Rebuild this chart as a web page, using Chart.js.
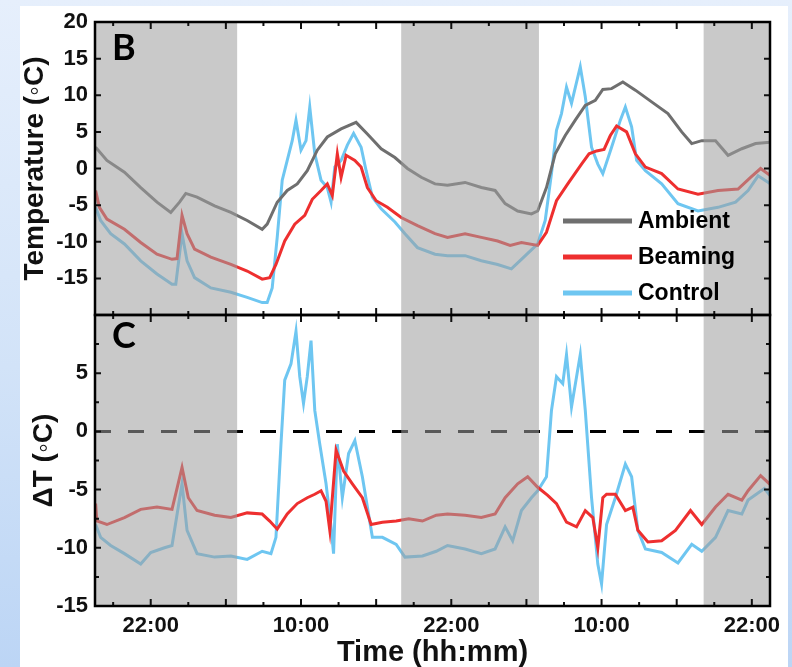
<!DOCTYPE html>
<html>
<head>
<meta charset="utf-8">
<script src="https://cdn.jsdelivr.net/npm/chart.js@4.4.1/dist/chart.umd.min.js"></script>
<style>
  html, body { margin: 0; padding: 0; }
  body { width: 792px; height: 667px; position: relative; overflow: hidden;
         background: linear-gradient(180deg, #e6effc 0%, #d2e3f8 55%, #bcd5f5 100%); }
  #sheet { position: absolute; left: 20px; top: 6px; width: 768px; height: 661px; background: #fff; }
  canvas { position: absolute; left: 0; top: 0; }
</style>
</head>
<body>
<div id="sheet"></div>
<canvas id="tempChart" width="792" height="667"></canvas>
<canvas id="deltaChart" width="792" height="667"></canvas>
<script>
// hours counted from midnight of the first day (22 = 22:00, 34 = 10:00 next day ...)
const xMin = 17.55, xMax = 71.45;
const xLabelHours = [22, 34, 46, 58, 70];
const xLabels = ['22:00', '10:00', '22:00', '10:00', '22:00'];
const xTickHours = [19, 22, 25, 28, 31, 34, 37, 40, 43, 46, 49, 52, 55, 58, 61, 64, 67, 70];
const nightStart = [17.55, 42.0, 66.15];
const nightEnd = [28.9, 53.0, 71.45];

const tempTicks = [-15, -10, -5, 0, 5, 10, 15];
const deltaTicks = [-12.5, -10, -7.5, -5, -2.5, 0, 2.5, 5, 7.5];

// panel B: temperatures
const ambientHours = [17.6, 18.5, 19.9, 21.2, 22.5, 23.6, 24.3, 24.8, 25.7, 27.1, 28.4, 29.7, 30.9, 31.3, 32.1, 32.9, 33.7, 34.5, 35.3, 36.1, 37.2, 38.4, 39.3, 40.4, 41.5, 42.5, 43.6, 44.7, 45.7, 47.1, 48.4, 49.5, 50.3, 51.3, 52.4, 52.9, 53.6, 54.3, 55.1, 55.9, 56.7, 57.5, 58.1, 58.8, 59.7, 60.7, 62.0, 63.3, 64.4, 65.2, 66.0, 67.1, 68.1, 69.2, 70.3, 71.5];
const ambientTemp = [2.9, 1.1, -0.5, -2.6, -4.6, -6.0, -4.6, -3.4, -3.9, -5.1, -6.0, -7.1, -8.3, -7.6, -4.6, -3.0, -2.1, -0.3, 2.5, 4.3, 5.4, 6.3, 4.7, 2.7, 1.5, 0.0, -1.2, -2.1, -2.3, -1.9, -2.6, -3.0, -4.8, -5.8, -6.2, -5.8, -2.6, 2.0, 4.5, 6.6, 8.6, 9.3, 10.8, 10.9, 11.8, 10.7, 9.1, 7.5, 5.0, 3.4, 3.8, 3.8, 1.8, 2.7, 3.4, 3.6];

const beamingHours = [17.6, 17.9, 18.5, 19.9, 21.2, 22.5, 23.7, 24.1, 24.5, 24.9, 25.5, 26.8, 28.4, 29.7, 30.9, 31.5, 32.0, 32.7, 33.5, 34.3, 34.9, 35.6, 36.1, 36.5, 36.9, 37.2, 37.6, 38.3, 38.8, 39.3, 40.0, 40.9, 42.0, 43.3, 44.7, 45.7, 47.1, 48.4, 49.7, 50.7, 51.6, 52.9, 53.6, 54.4, 55.3, 56.4, 57.0, 57.6, 58.2, 58.7, 59.2, 60.0, 60.7, 61.5, 62.8, 64.1, 65.7, 67.3, 68.9, 69.9, 70.7, 71.5];
const beamingTemp = [-3.0, -5.3, -6.9, -8.3, -10.1, -11.7, -12.4, -12.3, -6.4, -8.9, -11.0, -12.1, -13.1, -14.0, -15.1, -14.9, -13.1, -9.9, -7.6, -6.4, -4.2, -3.0, -2.1, -3.7, 2.0, -1.2, 1.8, 1.1, 0.2, -2.6, -4.4, -5.3, -6.7, -7.8, -8.9, -9.4, -8.9, -9.4, -9.9, -10.5, -10.1, -10.5, -8.7, -4.4, -2.1, 0.6, 2.0, 2.4, 2.6, 4.5, 5.8, 5.0, 2.0, 0.2, -0.7, -2.8, -3.5, -3.0, -2.8, -1.2, 0.0, -1.0];

const controlHours = [17.6, 18.0, 18.8, 19.9, 21.2, 22.5, 23.7, 24.0, 24.5, 24.9, 25.5, 26.8, 28.4, 29.7, 30.9, 31.3, 31.7, 32.1, 32.5, 32.9, 33.3, 33.6, 34.0, 34.4, 34.7, 35.1, 35.6, 36.1, 36.4, 36.7, 37.2, 37.7, 38.2, 38.8, 39.2, 39.7, 40.4, 41.5, 42.3, 43.3, 44.7, 45.7, 47.1, 48.4, 49.7, 50.8, 51.6, 52.9, 53.5, 54.0, 54.4, 54.8, 55.2, 55.6, 56.3, 56.7, 57.2, 57.7, 58.1, 58.8, 59.5, 59.9, 60.4, 60.8, 61.5, 62.8, 64.1, 65.7, 67.3, 68.7, 69.7, 70.5, 71.5];
const controlTemp = [-5.3, -7.1, -8.9, -10.3, -12.6, -14.4, -15.8, -15.8, -8.9, -12.6, -14.9, -16.3, -16.9, -17.6, -18.3, -18.3, -16.3, -9.4, -1.6, 1.1, 3.8, 6.6, 2.5, 3.8, 8.4, 2.0, -1.6, -2.6, -4.6, 0.2, 1.1, 3.2, 4.8, 2.9, -0.3, -3.9, -5.5, -7.3, -8.9, -10.8, -11.7, -11.9, -11.9, -12.6, -13.1, -13.7, -12.4, -10.3, -7.1, -0.7, 5.2, 7.5, 11.1, 8.9, 13.9, 9.8, 2.9, 0.6, -0.7, 2.9, 6.6, 8.4, 5.7, 1.1, -0.3, -2.1, -4.8, -5.8, -5.3, -4.6, -3.0, -1.0, -2.1];

// panel C: difference to ambient
const dBeamHours = [17.6, 17.7, 18.5, 19.9, 21.2, 22.5, 23.7, 24.5, 25.0, 25.7, 27.1, 28.4, 29.7, 30.9, 31.5, 32.1, 32.9, 33.7, 34.5, 35.1, 35.6, 36.0, 36.3, 36.8, 37.4, 38.1, 38.9, 39.6, 40.5, 41.6, 42.6, 43.7, 44.8, 45.7, 47.1, 48.4, 49.5, 50.3, 51.3, 52.1, 52.9, 53.7, 54.4, 55.2, 56.0, 56.7, 57.3, 57.7, 58.1, 58.4, 59.1, 59.9, 60.5, 60.9, 61.7, 62.8, 63.9, 65.1, 66.0, 67.1, 68.1, 69.2, 69.7, 70.7, 71.6];
const dBeamVal = [-6.2, -7.7, -8.0, -7.4, -6.7, -6.5, -6.7, -3.1, -5.7, -6.8, -7.2, -7.4, -7.0, -7.1, -7.7, -8.4, -7.1, -6.2, -5.7, -5.4, -5.1, -6.0, -8.5, -1.6, -3.4, -4.5, -5.7, -8.0, -7.8, -7.7, -7.5, -7.7, -7.2, -7.1, -7.2, -7.4, -7.1, -5.7, -4.5, -3.9, -4.8, -5.5, -6.2, -7.8, -8.2, -6.8, -7.4, -10.0, -5.7, -5.4, -5.4, -6.8, -6.5, -8.5, -9.5, -9.4, -8.5, -6.8, -8.0, -6.5, -5.4, -5.9, -5.1, -3.8, -4.7];

const dCtrlHours = [17.6, 18.0, 18.8, 19.9, 21.2, 22.0, 23.1, 23.7, 24.5, 24.9, 25.7, 27.1, 28.4, 29.7, 30.9, 31.6, 32.0, 32.4, 32.7, 33.2, 33.6, 33.9, 34.2, 34.5, 34.8, 35.1, 35.5, 36.0, 36.4, 36.6, 36.9, 37.3, 37.8, 38.3, 38.9, 39.7, 40.5, 41.6, 42.3, 43.7, 44.8, 45.7, 47.1, 48.4, 49.5, 50.3, 50.9, 51.6, 52.4, 52.9, 53.6, 54.0, 54.4, 54.9, 55.2, 55.6, 56.3, 56.7, 57.2, 57.7, 58.0, 58.4, 59.1, 59.9, 60.4, 60.9, 61.5, 62.8, 64.1, 65.2, 66.0, 67.1, 68.1, 69.2, 69.7, 71.0, 71.6];
const dCtrlVal = [-8.0, -9.1, -9.8, -10.5, -11.4, -10.4, -10.0, -9.8, -4.5, -8.5, -10.5, -10.8, -10.7, -11.0, -10.3, -10.5, -9.1, -1.1, 4.4, 5.8, 8.6, 4.7, 2.4, 4.7, 7.8, 1.8, -1.1, -4.5, -8.2, -10.5, -1.1, -5.7, -1.9, -0.8, -3.9, -9.1, -9.1, -9.7, -10.8, -10.7, -10.3, -9.8, -10.1, -10.5, -10.1, -8.2, -9.4, -6.8, -5.7, -5.1, -3.9, 1.8, 4.7, 4.1, 6.6, 2.1, 6.6, 1.8, -5.7, -11.4, -13.1, -8.0, -5.7, -2.8, -3.9, -8.5, -10.1, -10.4, -11.3, -9.7, -10.3, -9.1, -6.8, -7.1, -5.9, -4.9, -5.7];

const zeroHours = [xMin, xMax];
const zeroVal = [0, 0];

const seriesNames = ['Ambient', 'Beaming', 'Control'];
const seriesColors = ['#6f6f6f', '#ee2f2f', '#6ec6f1'];

const FONT = '"Liberation Sans", Arial, sans-serif';

function lineSet(label, hours, vals, color, width) {
    return {
        label: label,
        data: hours.map((h, i) => ({ x: h, y: vals[i] })),
        borderColor: color,
        borderWidth: width,
        pointRadius: 0,
        tension: 0,
        fill: false
    };
}

// night shading, inward ticks, frame, panel letter and legend
function panelPlugin(opts) {
    return {
        id: 'panel' + opts.letter,
        afterDatasetsDraw(chart) {
            const { ctx, chartArea: a, scales: { x, y } } = chart;
            ctx.save();
            ctx.beginPath();
            ctx.rect(a.left, a.top, a.right - a.left, a.bottom - a.top);
            ctx.clip();
            ctx.fillStyle = 'rgba(158,158,158,0.56)';
            nightStart.forEach((s, i) => {
                const x0 = x.getPixelForValue(s);
                const x1 = x.getPixelForValue(nightEnd[i]);
                ctx.fillRect(x0, a.top, x1 - x0, a.bottom - a.top);
            });
            ctx.restore();

            ctx.save();
            ctx.strokeStyle = '#111';
            ctx.lineWidth = 2;
            ctx.beginPath();
            xTickHours.forEach(h => {
                const px = x.getPixelForValue(h);
                const len = (h - 22) % 6 === 0 ? 7 : 4;
                ctx.moveTo(px, a.bottom); ctx.lineTo(px, a.bottom - len);
                ctx.moveTo(px, a.top); ctx.lineTo(px, a.top + len);
            });
            opts.yTicks.forEach(v => {
                const py = y.getPixelForValue(v);
                const len = v % 5 === 0 ? 6 : 4;
                ctx.moveTo(a.left, py); ctx.lineTo(a.left + len, py);
                ctx.moveTo(a.right, py); ctx.lineTo(a.right - len, py);
            });
            ctx.stroke();

            ctx.lineWidth = 2.5;
            ctx.strokeStyle = '#000';
            ctx.strokeRect(a.left, a.top, a.right - a.left, a.bottom - a.top);

            ctx.fillStyle = '#000';
            ctx.font = 'bold 36px Lato, ' + FONT;
            ctx.textBaseline = 'alphabetic';
            ctx.textAlign = 'left';
            ctx.fillText(opts.letter, a.left + 17, a.top + opts.letterDrop);

            if (opts.legend) {
                ctx.font = 'bold 23px ' + FONT;
                ctx.textBaseline = 'middle';
                ctx.lineWidth = 5;
                seriesNames.forEach((name, i) => {
                    const ly = 221 + i * 36;
                    ctx.strokeStyle = seriesColors[i];
                    ctx.beginPath();
                    ctx.moveTo(563, ly); ctx.lineTo(632, ly);
                    ctx.stroke();
                    ctx.fillText(name, 638, ly + 1);
                });
            }
            ctx.restore();
        }
    };
}

const tickFont = { family: FONT, size: 22, weight: 'bold' };

new Chart(document.getElementById('tempChart'), {
    type: 'line',
    data: {
        datasets: [
            lineSet('Beaming', beamingHours, beamingTemp, seriesColors[1], 3),
            lineSet('Ambient', ambientHours, ambientTemp, seriesColors[0], 3),
            lineSet('Control', controlHours, controlTemp, seriesColors[2], 3)
        ]
    },
    options: {
        responsive: false,
        animation: false,
        devicePixelRatio: 1,
        layout: { padding: { left: 14, right: 22, top: 22, bottom: 352 } },
        plugins: { legend: { display: false }, tooltip: { enabled: false } },
        scales: {
            x: {
                type: 'linear', min: xMin, max: xMax,
                grid: { display: false }, border: { display: false },
                ticks: { display: false },
                afterFit(s) { s.height = 0; }
            },
            y: {
                min: -20, max: 20,
                grid: { display: false, drawTicks: false }, border: { display: false },
                ticks: { stepSize: 5, padding: 7, color: '#111', font: tickFont,
                         callback: v => v === -20 ? '' : v },
                title: { display: true, text: 'Temperature (◦C)', color: '#111',
                         font: { family: FONT, size: 28, weight: 'bold' } },
                afterFit(s) { s.width = 95 - 14; }
            }
        }
    },
    plugins: [panelPlugin({ letter: 'B', letterDrop: 38, yTicks: tempTicks, legend: true })]
});

new Chart(document.getElementById('deltaChart'), {
    type: 'line',
    data: {
        datasets: [
            lineSet('zero', zeroHours, zeroVal, '#000', 3),
            lineSet('Beaming', dBeamHours, dBeamVal, seriesColors[1], 3),
            lineSet('Control', dCtrlHours, dCtrlVal, seriesColors[2], 3)
        ]
    },
    options: {
        responsive: false,
        animation: false,
        devicePixelRatio: 1,
        layout: { padding: { left: 23, right: 22, top: 315, bottom: 0 } },
        plugins: { legend: { display: false }, tooltip: { enabled: false } },
        scales: {
            x: {
                type: 'linear', min: xMin, max: xMax,
                grid: { display: false, drawTicks: false }, border: { display: false },
                afterBuildTicks(s) { s.ticks = xLabelHours.map(v => ({ value: v })); },
                ticks: { autoSkip: false, maxRotation: 0, padding: 7, color: '#111', font: tickFont,
                         callback: (v, i) => xLabels[i] },
                title: { display: true, text: 'Time (hh:mm)', color: '#111',
                         padding: { top: 0, bottom: 0 },
                         font: { family: FONT, size: 29, weight: 'bold', lineHeight: 1 } },
                afterFit(s) { s.height = 667 - 606; }
            },
            y: {
                min: -15, max: 10,
                grid: { display: false, drawTicks: false }, border: { display: false },
                ticks: { stepSize: 5, padding: 7, color: '#111', font: tickFont,
                         callback: v => v === 10 ? '' : v },
                title: { display: true, text: 'ΔT (◦C)', color: '#111',
                         font: { family: FONT, size: 28, weight: 'bold' } },
                afterFit(s) { s.width = 95 - 23; }
            }
        }
    },
    plugins: [panelPlugin({ letter: 'C', letterDrop: 33, yTicks: deltaTicks, legend: false })]
});

// dashed zero line
Chart.getChart('deltaChart').data.datasets[0].borderDash = [16, 17];
Chart.getChart('deltaChart').update();
</script>
</body>
</html>
